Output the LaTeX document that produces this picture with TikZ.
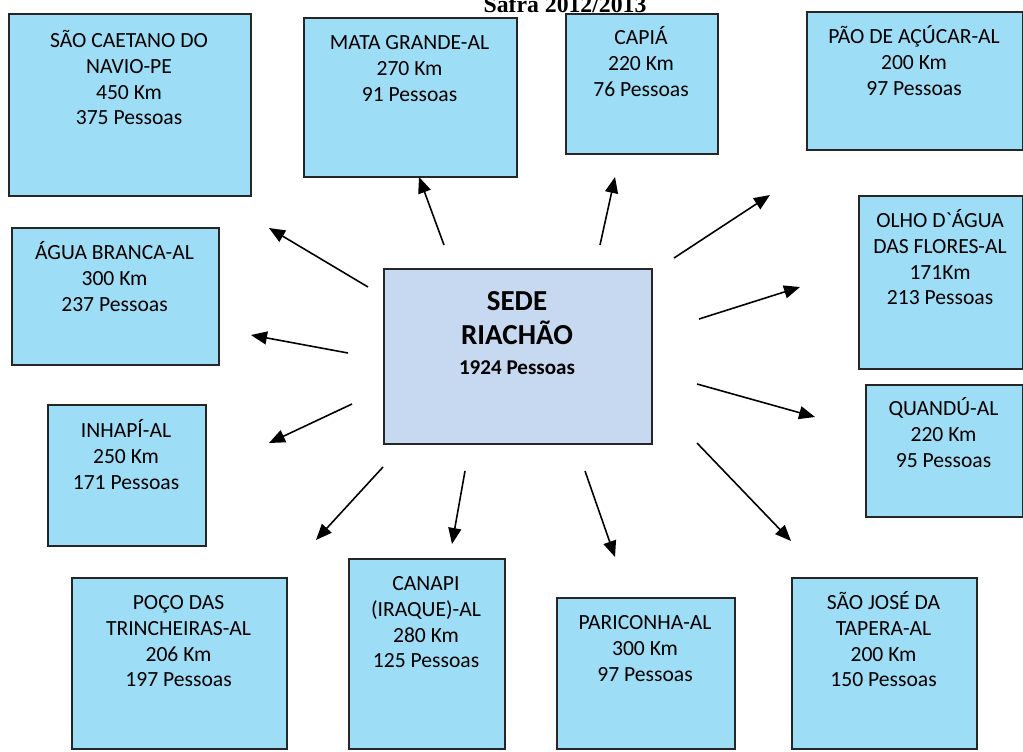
\documentclass[tikz,border=0pt]{standalone}
\usepackage{fontspec}
\setmainfont{Carlito}[Ligatures=TeXOff]
\newfontfamily\titlefont{Liberation Serif}
\usetikzlibrary{arrows.meta}
\definecolor{azulcidade}{RGB}{157,221,245}
\definecolor{azulsede}{RGB}{198,217,240}
\tikzset{
  cidade/.style={draw=black!85, line width=0.9pt, fill=azulcidade, inner sep=0pt, anchor=north west},
  sedebox/.style={cidade, fill=azulsede},
  rotulo/.style={align=center, anchor=north, inner sep=0pt, font=\fontsize{12.3}{14.7}\selectfont},
  seta/.style={-{Triangle[length=3.2mm,width=2.6mm]}, line width=0.9pt},
}
% #1 nome, #2-#5 cantos, #6 centro da primeira linha, #7 texto
\newcommand{\municipio}[7]{
  \node[cidade, minimum width={(#4-#2)*0.02cm}, minimum height={(#5-#3)*0.02cm}] (#1) at (#2,#3) {};
  \node[rotulo] (#1-txt) at ({(#2+#4)/2},#6-11) {\strut#7};
}
\begin{document}
\begin{tikzpicture}[x=0.02cm, y=-0.02cm]
   \useasboundingbox (0,0) rectangle (1023,751);

   \node[anchor=base, inner sep=0pt, font=\titlefont\bfseries\fontsize{13.5}{16}\selectfont] (titulo) at (565,12) {Safra 2012/2013};

   \municipio{caetano}{8}{13}{250}{195}{40}{SÃO CAETANO DO\\NAVIO-PE\\450 Km\\375 Pessoas}
   \municipio{mata}{303}{17}{516}{176}{42}{MATA GRANDE-AL\\270 Km\\91 Pessoas}
   \municipio{capia}{565}{13}{717}{153}{37}{CAPIÁ\\220 Km\\76 Pessoas}
   \municipio{pao}{806}{11}{1022}{149}{36}{PÃO DE AÇÚCAR-AL\\200 Km\\97 Pessoas}
   \municipio{olho}{858}{195}{1022}{368}{220}{OLHO D`ÁGUA\\DAS FLORES-AL\\171Km\\213 Pessoas}
   \municipio{quandu}{865}{384}{1022}{516}{408}{QUANDÚ-AL\\220 Km\\95 Pessoas}
   \municipio{jose}{791}{577}{976}{748}{602}{SÃO JOSÉ DA\\TAPERA-AL\\200 Km\\150 Pessoas}
   \municipio{pariconha}{556}{597}{734}{748}{622}{PARICONHA-AL\\300 Km\\97 Pessoas}
   \municipio{canapi}{348}{558}{504}{748}{583}{CANAPI\\(IRAQUE)-AL\\280 Km\\125 Pessoas}
   \municipio{poco}{71}{577}{286}{748}{602}{POÇO DAS\\TRINCHEIRAS-AL\\206 Km\\197 Pessoas}
   \municipio{inhapi}{47}{404}{205}{545}{430}{INHAPÍ-AL\\250 Km\\171 Pessoas}
   \municipio{agua}{11}{227}{218}{364}{252}{ÁGUA BRANCA-AL\\300 Km\\237 Pessoas}

   \node[sedebox, minimum width={268*0.02cm}, minimum height={175*0.02cm}] (sede) at (383,268) {};
   \node[rotulo, font=\bfseries\fontsize{16.5}{19.3}\selectfont] (sede-txt) at (517,286.6) {\strut SEDE\\RIACHÃO\\[-2.3pt]\fontsize{12}{15}\selectfont 1924 Pessoas};

   \foreach \nome/\ini/\fim in {
       caetano/{368,287}/{269,228},
       mata/{444,245}/{419,177},
       capia/{600,245}/{615,177},
       pao/{674,258}/{770,195},
       olho/{699,319}/{800,287},
       quandu/{697,384}/{815,417},
       jose/{697,443}/{791,541},
       pariconha/{585,471}/{615,557},
       canapi/{465,471}/{452,544},
       poco/{383,467}/{316,540},
       inhapi/{352,404}/{269,443},
       agua/{348,353}/{251,335}}{
       \coordinate (\nome-a) at (\ini);
       \coordinate (\nome-b) at (\fim);
       \draw[seta] (\nome-a) -- (\nome-b);
   }

\end{tikzpicture}
\end{document}
